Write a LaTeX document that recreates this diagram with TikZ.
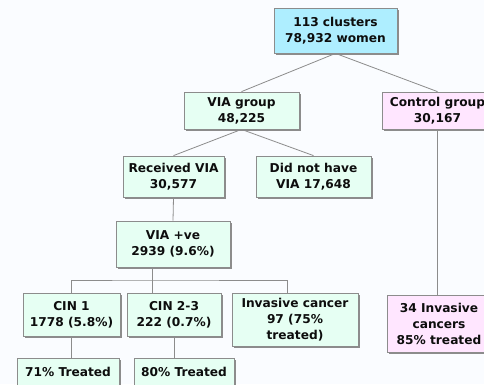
\documentclass[tikz,border=0pt]{standalone}
\usepackage{fontspec}
\setmainfont{DejaVu Sans}
\usetikzlibrary{positioning, shadows}
\definecolor{rootfill}{HTML}{AEEEFF}
\definecolor{viafill}{HTML}{E6FFF3}
\definecolor{ctlfill}{HTML}{FFE6FF}
\definecolor{edgegray}{HTML}{8C8C8C}
\definecolor{pagebg}{HTML}{FAFCFF}

\begin{document}
\begin{tikzpicture}[x=1pt, y=-1pt,
    box/.style={draw=edgegray, line width=0.8pt, align=center, inner sep=0pt,
        font=\fontsize{12.2}{16}\selectfont\bfseries, text=black!95,
        drop shadow={shadow xshift=1.5pt, shadow yshift=-1.5pt, fill=black!45, opacity=1}},
    root/.style={box, fill=rootfill},
    via/.style={box, fill=viafill},
    ctl/.style={box, fill=ctlfill},
    link/.style={draw=edgegray, line width=0.8pt}]

    % Page background and frame
    \fill[pagebg] (0,0) rectangle (484,384);
    \useasboundingbox (0,0) rectangle (484,384);

    % Top of the tree
    \node[root, minimum width=123pt, minimum height=45pt] (root) at (335.5,30.5)
        {113 clusters\\78,932 women};
    \node[via, minimum width=115pt, minimum height=37pt] (viagrp) at (241.5,110.5)
        {VIA group\\48,225};
    \node[ctl, minimum width=111pt, minimum height=37pt] (ctlgrp) at (437.5,110.5)
        {Control group\\30,167};

    % VIA arm
    \node[via, minimum width=101pt, minimum height=41pt] (recvia) at (173.5,176.5)
        {Received VIA\\30,577};
    \node[via, minimum width=115pt, minimum height=41pt] (novia) at (313.5,176.5)
        {Did not have\\VIA 17,648};
    \node[via, minimum width=114pt, minimum height=46pt] (vpos) at (173,244)
        {VIA +ve\\2939 (9.6\%)};

    % Findings after VIA +ve
    \node[via, minimum width=97pt, minimum height=43pt] (cin1) at (71.5,314.5)
        {CIN 1\\1778 (5.8\%)};
    \node[via, minimum width=94pt, minimum height=43pt] (cin23) at (174,314.5)
        {CIN 2-3\\222 (0.7\%)};
    \node[via, minimum width=126pt, minimum height=53pt] (invca) at (295,319.5)
        {Invasive cancer\\97 (75\%\\treated)};
    \node[via, minimum width=102pt, minimum height=28pt] (trt71) at (68,372)
        {71\% Treated};
    \node[via, minimum width=100pt, minimum height=28pt] (trt80) at (184,372)
        {80\% Treated};

    % Control arm
    \node[ctl, minimum width=104pt, minimum height=57pt] (ctlinv) at (439,323.5)
        {34 Invasive\\cancers\\85\% treated};

    % Connectors
    \coordinate (bus) at (152,280);
    \draw[link] (root.south) -- (viagrp.north);
    \draw[link] (root.south) -- (ctlgrp.north);
    \draw[link] (viagrp.south) -- (recvia.north);
    \draw[link] (viagrp.south) -- (novia.north);
    \draw[link] (recvia.south) -- (vpos.north);
    \draw[link] (vpos.south -| bus) -- (cin23.north -| bus);
    \draw[link] (cin1.north) |- (bus) -| ([xshift=-8pt]invca.north);
    \draw[link] (cin1.south) -- (cin1.south |- trt71.north);
    \draw[link] (cin23.south) -- (cin23.south |- trt80.north);
    \draw[link] (ctlgrp.south) -- (ctlgrp.south |- ctlinv.north);
\end{tikzpicture}
\end{document}
